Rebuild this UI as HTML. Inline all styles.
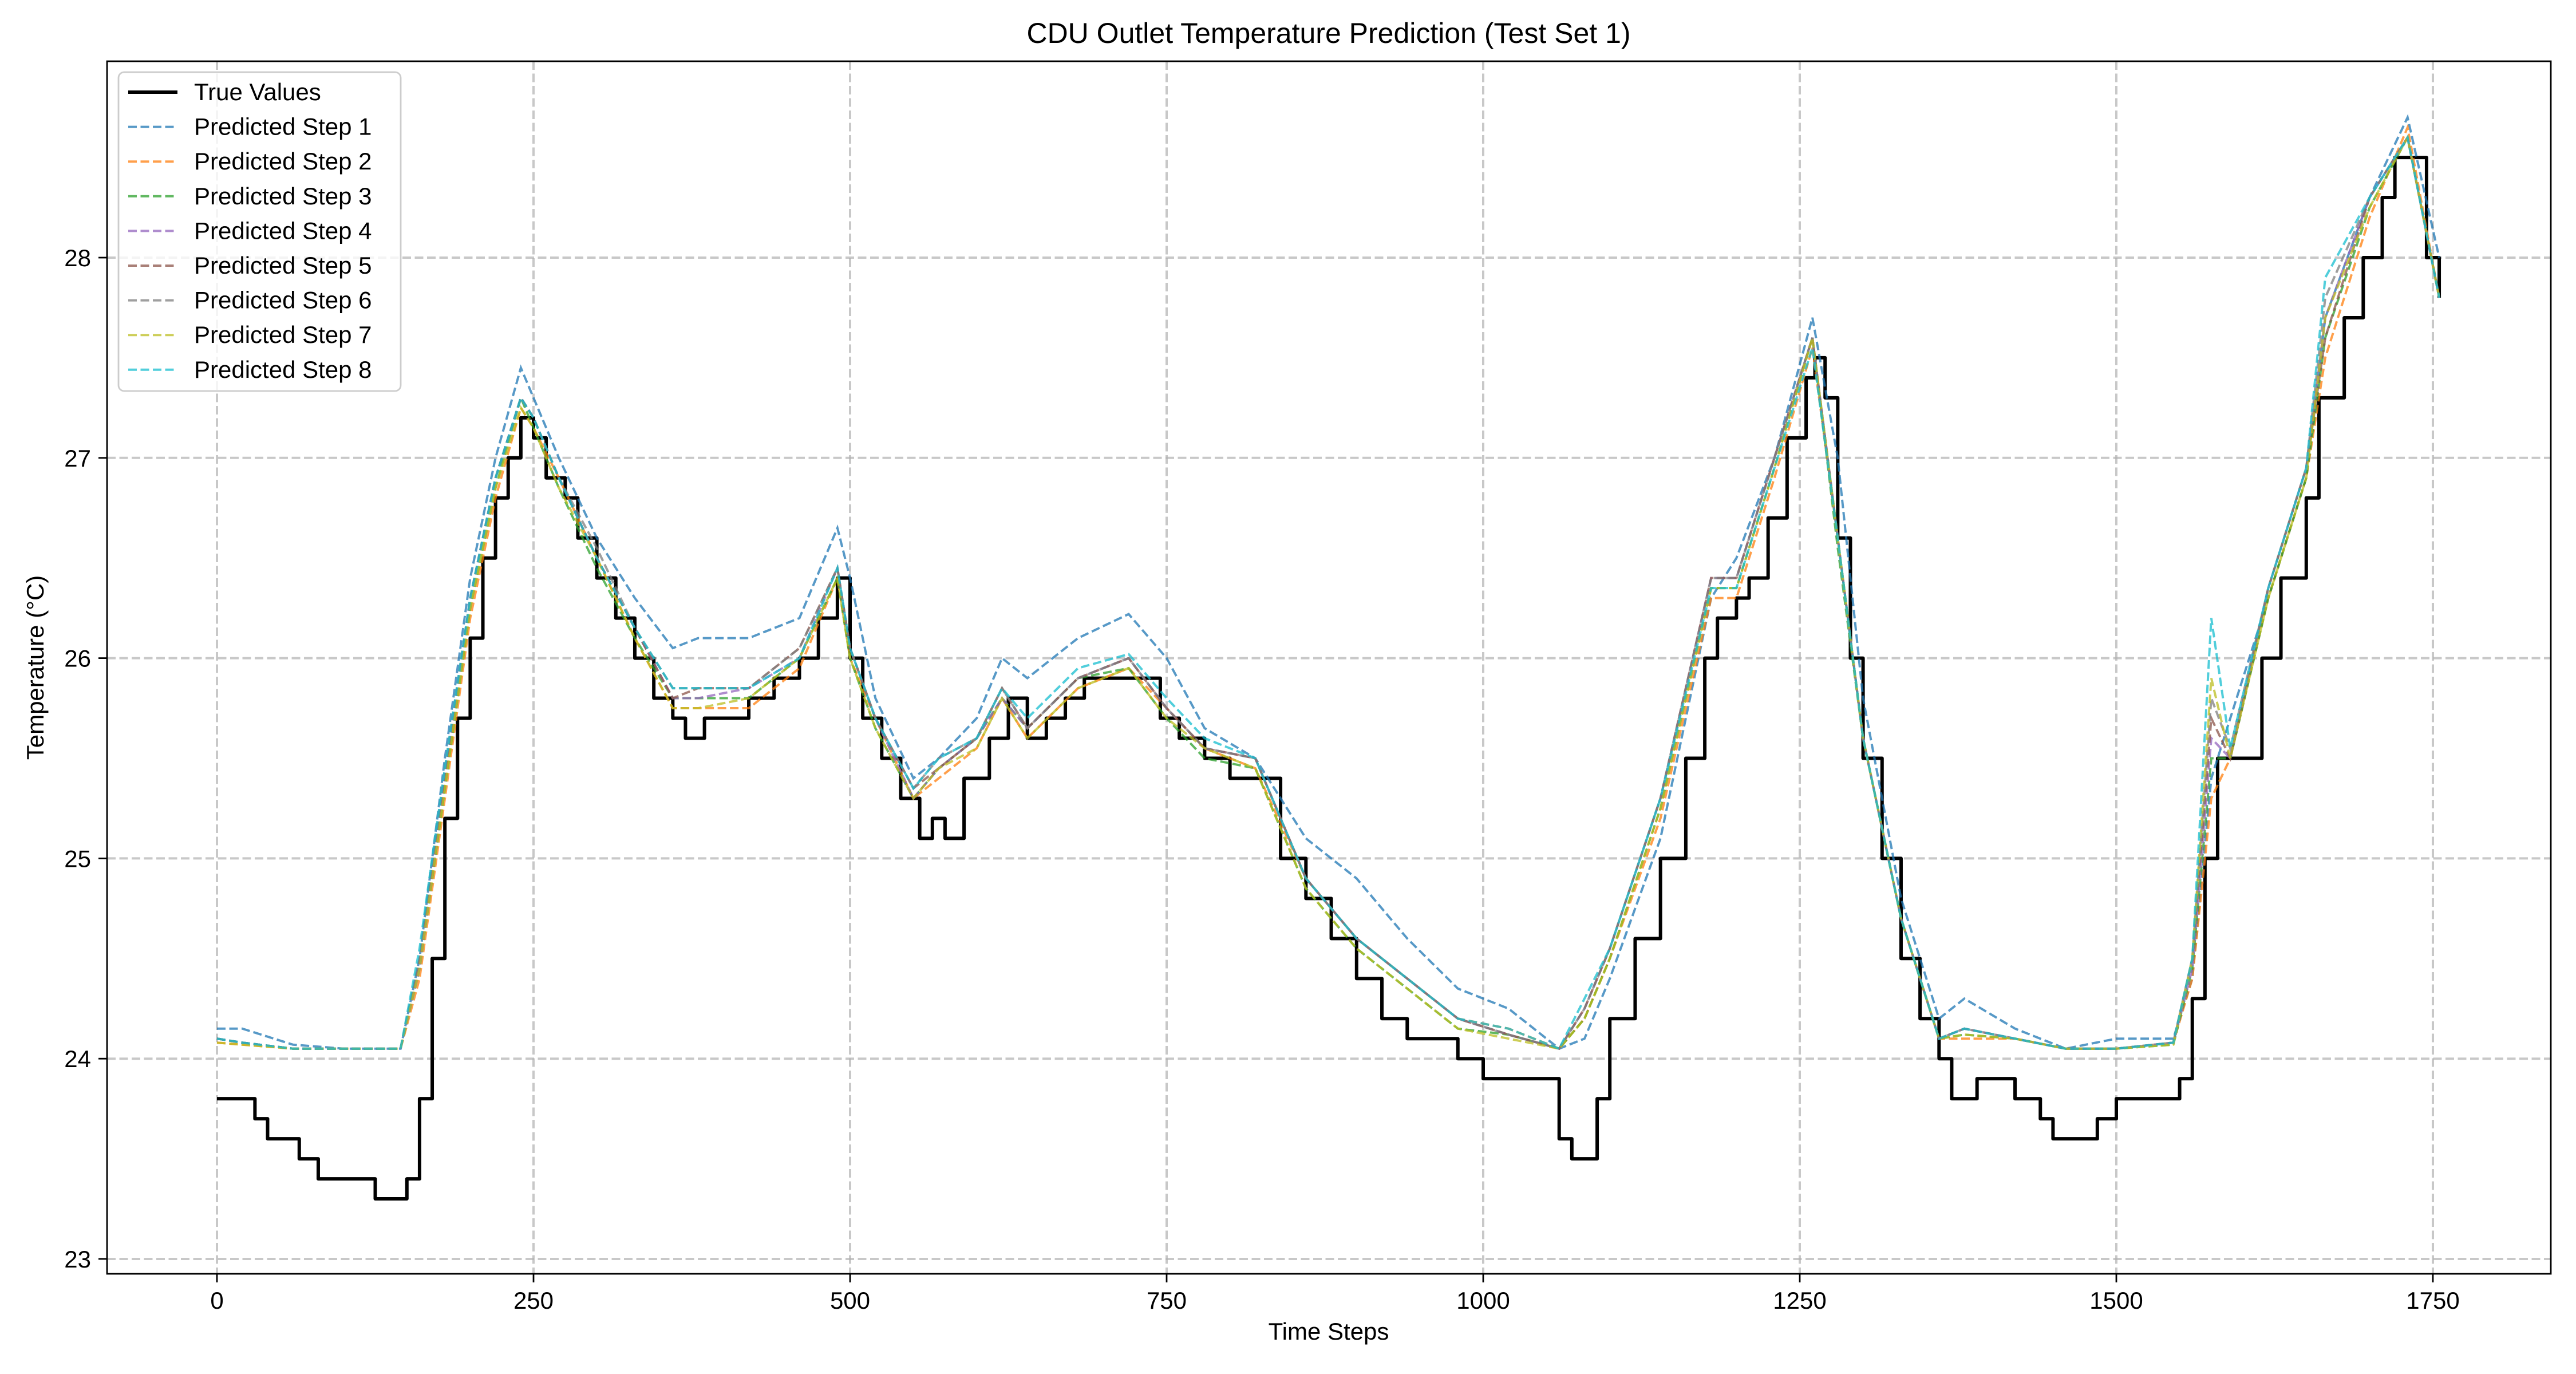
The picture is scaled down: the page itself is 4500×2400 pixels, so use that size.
<!DOCTYPE html>
<html><head><meta charset="utf-8"><style>
body{margin:0;background:#fff}
svg{display:block;font-family:"Liberation Sans","DejaVu Sans",sans-serif}
</style></head><body>
<svg id="chart" width="4500" height="2400" viewBox="0 0 4500 2400" xmlns="http://www.w3.org/2000/svg">
<rect width="4500" height="2400" fill="#fff"/>
<text x="2321" y="75" font-size="50" text-anchor="middle">CDU Outlet Temperature Prediction (Test Set 1)</text>
<g id="grid"></g>
<g id="series"></g>
<rect x="187" y="107" width="4269" height="2118" fill="none" stroke="#000" stroke-width="2.8"/>
<g id="ticks"></g>
<text x="2321" y="2340" font-size="42" text-anchor="middle">Time Steps</text>
<text x="0" y="0" font-size="42" text-anchor="middle" transform="translate(76,1166) rotate(-90)">Temperature (°C)</text>
<g id="legend"></g>
</svg>
<script>
const xTicks=[0,250,500,750,1000,1250,1500,1750];
const yTicks=[23,24,25,26,27,28];
const trueT=[0,25,30,40,60,65,80,110,125,140,150,160,170,180,190,200,210,220,230,240,250,260,275,285,300,315,330,345,360,370,385,400,420,440,460,475,490,500,510,525,540,555,565,575,590,610,625,640,655,670,685,700,730,745,760,780,800,820,840,860,880,900,920,940,960,980,1000,1040,1060,1070,1080,1090,1100,1120,1140,1160,1175,1185,1200,1210,1225,1240,1255,1262,1270,1280,1290,1300,1315,1330,1345,1360,1370,1390,1420,1440,1450,1470,1485,1500,1540,1550,1560,1570,1580,1600,1615,1630,1650,1660,1680,1695,1710,1720,1735,1745,1755];
const trueV=[23.8,23.8,23.7,23.6,23.6,23.5,23.4,23.4,23.3,23.3,23.4,23.8,24.5,25.2,25.7,26.1,26.5,26.8,27.0,27.2,27.1,26.9,26.8,26.6,26.4,26.2,26.0,25.8,25.7,25.6,25.7,25.7,25.8,25.9,26.0,26.2,26.4,26.0,25.7,25.5,25.3,25.1,25.2,25.1,25.4,25.6,25.8,25.6,25.7,25.8,25.9,25.9,25.9,25.7,25.6,25.5,25.4,25.4,25.0,24.8,24.6,24.4,24.2,24.1,24.1,24.0,23.9,23.9,23.6,23.5,23.5,23.8,24.2,24.6,25.0,25.5,26.0,26.2,26.3,26.4,26.7,27.1,27.4,27.5,27.3,26.6,26.0,25.5,25.0,24.5,24.2,24.0,23.8,23.9,23.8,23.7,23.6,23.6,23.7,23.8,23.8,23.9,24.3,25.0,25.5,25.5,26.0,26.4,26.8,27.3,27.7,28.0,28.3,28.5,28.5,28.0,27.8];
const predT=[0,20,60,100,145,160,180,200,220,240,250,270,300,330,360,380,420,460,490,500,520,550,570,600,620,640,680,720,750,780,820,860,900,940,980,1020,1060,1080,1100,1140,1180,1200,1230,1260,1280,1300,1330,1360,1380,1420,1460,1500,1545,1560,1575,1590,1620,1650,1665,1700,1730,1755];
const pred1=[24.15,24.15,24.07,24.05,24.05,24.5,25.5,26.4,27.0,27.45,27.3,27.0,26.6,26.3,26.05,26.1,26.1,26.2,26.65,26.4,25.8,25.4,25.5,25.7,26.0,25.9,26.1,26.22,26.0,25.65,25.5,25.1,24.9,24.6,24.35,24.25,24.05,24.1,24.4,25.1,26.3,26.5,27.0,27.7,27.0,25.8,24.8,24.2,24.3,24.15,24.05,24.1,24.1,24.4,25.4,25.7,26.3,26.9,27.7,28.3,28.7,28.0];
const pred2=[24.08,24.07,24.05,24.05,24.05,24.4,25.3,26.2,26.8,27.25,27.15,26.9,26.5,26.1,25.75,25.75,25.75,25.95,26.4,26.0,25.7,25.3,25.4,25.55,25.8,25.6,25.85,25.95,25.75,25.55,25.45,24.9,24.6,24.4,24.2,24.15,24.05,24.2,24.5,25.2,26.3,26.3,26.9,27.55,26.6,25.6,24.7,24.1,24.1,24.1,24.05,24.05,24.08,24.4,25.3,25.5,26.3,26.9,27.5,28.2,28.65,27.8];
const pred3=[24.1,24.08,24.05,24.05,24.05,24.45,25.35,26.25,26.85,27.3,27.15,26.85,26.45,26.1,25.8,25.8,25.8,26.0,26.4,26.0,25.65,25.3,25.45,25.6,25.8,25.65,25.9,25.95,25.7,25.5,25.45,24.85,24.55,24.35,24.15,24.12,24.05,24.2,24.5,25.25,26.35,26.35,26.95,27.6,26.55,25.6,24.7,24.1,24.12,24.1,24.05,24.05,24.07,24.45,25.5,25.5,26.3,26.9,27.6,28.25,28.6,27.8];
const pred4=[24.1,24.08,24.05,24.05,24.05,24.45,25.4,26.3,26.9,27.3,27.2,26.9,26.5,26.15,25.8,25.8,25.85,26.0,26.45,26.05,25.7,25.3,25.45,25.6,25.8,25.65,25.9,26.0,25.75,25.55,25.5,24.9,24.6,24.4,24.2,24.12,24.05,24.25,24.55,25.3,26.4,26.4,27.0,27.6,26.6,25.6,24.7,24.1,24.15,24.1,24.05,24.05,24.08,24.45,25.6,25.5,26.35,26.95,27.7,28.3,28.6,27.8];
const pred5=[24.1,24.08,24.05,24.05,24.05,24.5,25.4,26.3,26.9,27.3,27.2,26.9,26.5,26.15,25.8,25.85,25.85,26.05,26.45,26.05,25.7,25.35,25.45,25.6,25.85,25.65,25.9,26.0,25.75,25.55,25.5,24.9,24.6,24.4,24.2,24.12,24.05,24.25,24.55,25.3,26.4,26.4,27.0,27.6,26.6,25.6,24.7,24.1,24.15,24.1,24.05,24.05,24.08,24.5,25.7,25.5,26.35,26.95,27.6,28.3,28.6,27.8];
const pred6=[24.1,24.08,24.05,24.05,24.05,24.5,25.45,26.3,26.9,27.3,27.2,26.9,26.55,26.15,25.85,25.85,25.85,26.05,26.45,26.05,25.7,25.35,25.5,25.6,25.85,25.65,25.9,26.0,25.75,25.55,25.5,24.9,24.6,24.4,24.2,24.12,24.05,24.25,24.55,25.3,26.4,26.4,27.0,27.6,26.6,25.6,24.7,24.1,24.15,24.1,24.05,24.05,24.08,24.5,25.8,25.55,26.35,26.95,27.8,28.3,28.6,27.8];
const pred7=[24.08,24.07,24.05,24.05,24.05,24.45,25.35,26.25,26.85,27.25,27.15,26.85,26.5,26.1,25.75,25.75,25.8,26.0,26.4,26.0,25.65,25.3,25.45,25.55,25.8,25.6,25.85,25.95,25.7,25.55,25.45,24.85,24.55,24.35,24.15,24.1,24.05,24.2,24.5,25.25,26.35,26.35,26.95,27.6,26.6,25.6,24.7,24.1,24.12,24.1,24.05,24.05,24.07,24.5,25.9,25.5,26.3,26.9,27.7,28.25,28.6,27.8];
const pred8=[24.1,24.08,24.05,24.05,24.05,24.55,25.45,26.3,26.9,27.3,27.2,26.9,26.5,26.15,25.85,25.85,25.85,26.0,26.45,26.05,25.7,25.35,25.5,25.6,25.85,25.7,25.95,26.02,25.8,25.6,25.5,24.9,24.6,24.4,24.2,24.15,24.05,24.3,24.55,25.3,26.35,26.35,26.95,27.55,26.6,25.6,24.7,24.1,24.15,24.1,24.05,24.05,24.08,24.5,26.2,25.55,26.35,26.95,27.9,28.3,28.6,27.8];
const seriesNames=["Predicted Step 1","Predicted Step 2","Predicted Step 3","Predicted Step 4","Predicted Step 5","Predicted Step 6","Predicted Step 7","Predicted Step 8"];
const seriesColors=["#1f77b4","#ff7f0e","#2ca02c","#9467bd","#8c564b","#7f7f7f","#bcbd22","#17becf"];
const preds=[pred1,pred2,pred3,pred4,pred5,pred6,pred7,pred8];

const NS="http://www.w3.org/2000/svg";
const X=t=>379+(t-0)*(4250-379)/1750;
const Y=v=>2199-(v-23)*(2199-450)/5;
function mk(tag,attrs,parent){const e=document.createElementNS(NS,tag);for(const k in attrs)e.setAttribute(k,attrs[k]);parent.appendChild(e);return e;}
const grid=document.getElementById('grid'),ticks=document.getElementById('ticks'),ser=document.getElementById('series'),leg=document.getElementById('legend');
xTicks.forEach(t=>{
  const g=mk('line',{x1:X(t),x2:X(t),y1:107,y2:2225,stroke:'#b0b0b0','stroke-opacity':0.7,'stroke-width':4,'stroke-dasharray':'15,6.5'},grid);
  
  
  const tk=mk('line',{x1:X(t),x2:X(t),y1:2225,y2:2240,stroke:'#000','stroke-width':2.8},ticks);
  
  
  const lb=mk('text',{x:X(t),y:2286,'font-size':42,'text-anchor':'middle'},ticks);lb.textContent=t;
  
  
});
yTicks.forEach(v=>{
  const g=mk('line',{x1:187,x2:4456,y1:Y(v),y2:Y(v),stroke:'#b0b0b0','stroke-opacity':0.7,'stroke-width':4,'stroke-dasharray':'15,6.5'},grid);
  
  
  const tk=mk('line',{x1:172,x2:187,y1:Y(v),y2:Y(v),stroke:'#000','stroke-width':2.8},ticks);
  
  
  const lb=mk('text',{x:159,y:Y(v)+15,'font-size':42,'text-anchor':'end'},ticks);lb.textContent=v;
  
  
});
let d='';
trueT.forEach((t,i)=>{ if(i===0) d+='M'+X(t)+' '+Y(trueV[i]); else d+=' L'+X(t)+' '+Y(trueV[i-1])+' L'+X(t)+' '+Y(trueV[i]); });
const tp=mk('path',{d:d,fill:'none',stroke:'#000','stroke-width':6,'stroke-linejoin':'round'},ser);


preds.forEach((arr,k)=>{
  const pts=predT.map((t,i)=>X(t)+','+Y(arr[i])).join(' ');
  const p=mk('polyline',{points:pts,fill:'none',stroke:seriesColors[k],'stroke-opacity':0.75,'stroke-width':4,'stroke-dasharray':'15,6.5'},ser);
  
  
});
const box=mk('rect',{x:207,y:126,width:493,height:557,rx:10,fill:'#fff','fill-opacity':0.8,stroke:'#ccc','stroke-width':2.8},leg);


const names=["True Values"].concat(seriesNames),cols=["#000"].concat(seriesColors);
names.forEach((n,i)=>{
  const y=161+i*60.6;
  const ln=mk('line',{x1:224,x2:310,y1:y,y2:y,stroke:cols[i],'stroke-width':i===0?6:4,'stroke-opacity':i===0?1:0.75},leg);
  if(i>0) ln.setAttribute('stroke-dasharray','15,6.5');
  
  
  const tx=mk('text',{x:339,y:y+14,'font-size':42},leg);tx.textContent=n;
  
  
});
</script>
</body></html>
